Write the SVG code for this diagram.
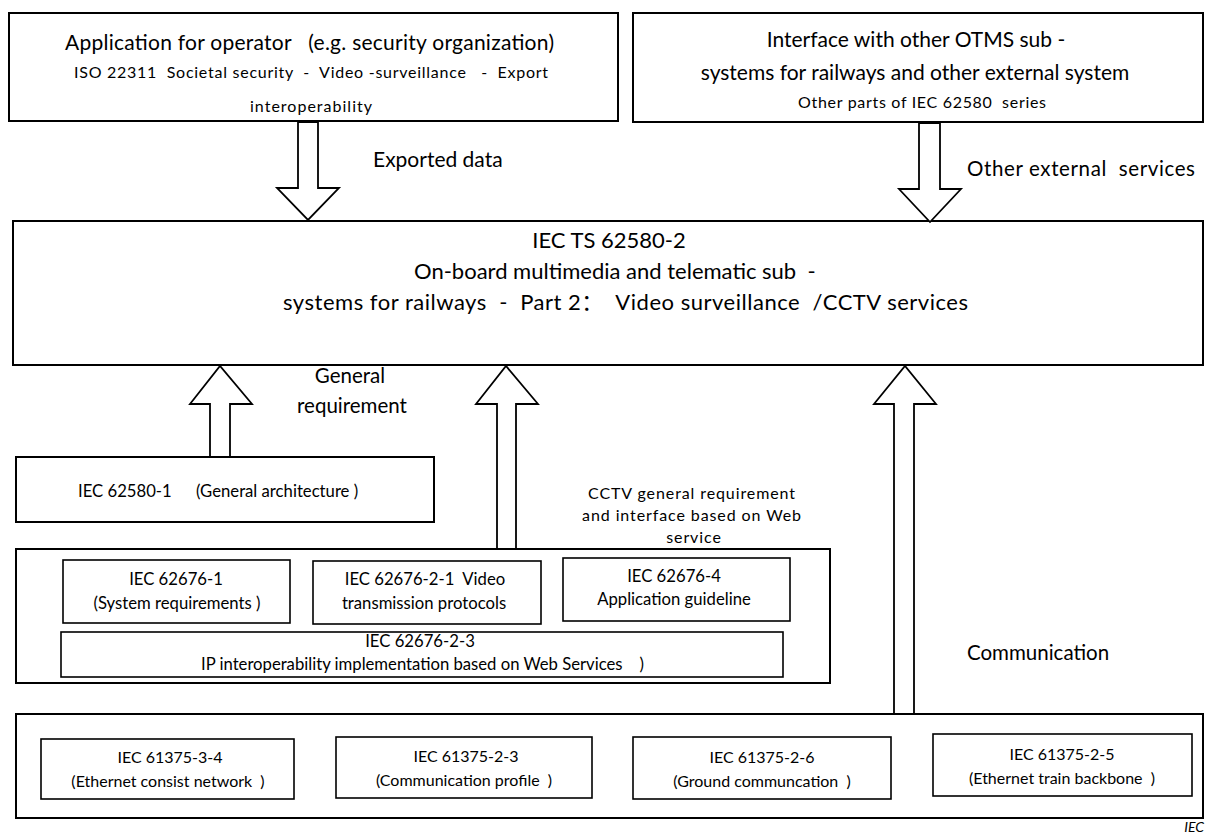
<svg xmlns="http://www.w3.org/2000/svg" width="1205" height="834" viewBox="0 0 1205 834">
<style>
.box{fill:#fff;stroke:#000;stroke-width:2}
.ibox{fill:#fff;stroke:#000;stroke-width:1.6}
.arr{fill:#fff;stroke:#000;stroke-width:1.8;stroke-linejoin:miter}
text{font-family:Lato,"Liberation Sans","Noto Sans CJK SC",sans-serif;fill:#000;text-anchor:middle;white-space:pre}
.s{text-anchor:start}
.t22{font-size:22px}
.t21{font-size:21px}
.t20{font-size:20.5px}
.t17{font-size:16.7px}
.t16{font-size:16px}
</style>
<rect width="1205" height="834" fill="#fff"/>
<g id="app-operator">
<rect class="box" x="9" y="13" width="609" height="108"/>
<text class="t21 s" x="65" y="50" textLength="489" lengthAdjust="spacing" xml:space="preserve">Application for operator   (e.g. security organization)</text>
<text class="t16 s" x="74" y="78" textLength="474" lengthAdjust="spacing" xml:space="preserve">ISO 22311  Societal security  -  Video -surveillance   -  Export</text>
<text class="t16 s" x="250" y="112" textLength="122" lengthAdjust="spacing">interoperability</text>
</g>
<g id="otms-interface">
<rect class="box" x="633" y="13" width="570" height="109"/>
<text class="t21" x="916" y="47">Interface with other OTMS sub -</text>
<text class="t21" x="915" y="80">systems for railways and other external system</text>
<text class="t16 s" x="798" y="108" textLength="248" lengthAdjust="spacing" xml:space="preserve">Other parts of IEC 62580  series</text>
</g>
<g id="iec62580-2">
<rect class="box" x="13" y="221" width="1190" height="144"/>
<text class="t22" x="609" y="248">IEC TS 62580-2</text>
<text class="t22 s" x="414" y="279" xml:space="preserve">On-board multimedia and telematic sub  -</text>
<text class="t22 s" x="283" y="310" textLength="685" lengthAdjust="spacing" xml:space="preserve">systems for railways  -  Part 2：  Video surveillance  /CCTV services</text>
</g>
<g id="iec62580-1">
<rect class="box" x="16" y="457" width="418" height="65"/>
<text class="t17 s" y="497"><tspan x="78">IEC 62580-1</tspan><tspan x="196">(General architecture )</tspan></text>
</g>
<g id="iec62676">
<rect class="box" x="16" y="549" width="814" height="134"/>
<g id="iec62676-1">
<rect class="ibox" x="63" y="560" width="227" height="63"/>
<text class="t17" x="176" y="585">IEC 62676-1</text>
<text class="t17" x="177" y="609">(System requirements )</text>
</g>
<g id="iec62676-2-1">
<rect class="ibox" x="313" y="561" width="228" height="63"/>
<text class="t17" x="425" y="585" xml:space="preserve">IEC 62676-2-1  Video</text>
<text class="t17" x="424" y="609">transmission protocols</text>
</g>
<g id="iec62676-4">
<rect class="ibox" x="563" y="558" width="227" height="63"/>
<text class="t17" x="674" y="582">IEC 62676-4</text>
<text class="t17" x="674" y="605">Application guideline</text>
</g>
<g id="iec62676-2-3">
<rect class="ibox" x="61" y="632" width="722" height="45"/>
<text class="t17" x="420" y="647">IEC 62676-2-3</text>
<text class="t17 s" x="201" y="670" textLength="443" lengthAdjust="spacing" xml:space="preserve">IP interoperability implementation based on Web Services    )</text>
</g>
</g>
<g id="iec61375">
<rect class="box" x="16" y="714" width="1187" height="104"/>
<g id="iec61375-3-4">
<rect class="ibox" x="41" y="739" width="253" height="60"/>
<text class="t16" x="170" y="763">IEC 61375-3-4</text>
<text class="t16" x="168" y="787" xml:space="preserve">(Ethernet consist network  )</text>
</g>
<g id="iec61375-2-3">
<rect class="ibox" x="336" y="737" width="256" height="61"/>
<text class="t16" x="466" y="762">IEC 61375-2-3</text>
<text class="t16" x="464" y="786" xml:space="preserve">(Communication profile  )</text>
</g>
<g id="iec61375-2-6">
<rect class="ibox" x="633" y="737" width="258" height="62"/>
<text class="t16" x="762" y="763">IEC 61375-2-6</text>
<text class="t16" x="762" y="787" xml:space="preserve">(Ground communcation  )</text>
</g>
<g id="iec61375-2-5">
<rect class="ibox" x="933" y="734" width="259" height="62"/>
<text class="t16" x="1062" y="760">IEC 61375-2-5</text>
<text class="t16" x="1062" y="784" xml:space="preserve">(Ethernet train backbone  )</text>
</g>
</g>
<g id="connectors">
<polygon class="arr" points="298,122 318,122 318,188 339,188 308,220 277,188 298,188"/>
<polygon class="arr" points="919,123 940,123 940,189 961,189 930,222 899,189 919,189"/>
<polygon class="arr" points="210,457 230,457 230,404 252,404 220,366 190,404 210,404"/>
<polygon class="arr" points="497,549 516,549 516,404 538,404 506,366 476,404 497,404"/>
<polygon class="arr" points="894,714 914,714 914,404 936,404 905,366 874,404 894,404"/>
<text class="t21 s" x="373" y="167">Exported data</text>
<text class="t20 s" x="967" y="176" textLength="228" lengthAdjust="spacing" xml:space="preserve">Other external  services</text>
<text class="t20" x="350" y="383">General</text>
<text class="t20" x="352" y="413">requirement</text>
<text class="t16" x="692" y="499" letter-spacing="0.9">CCTV general requirement</text>
<text class="t16" x="692" y="521" letter-spacing="0.9">and interface based on Web</text>
<text class="t16" x="694" y="543" letter-spacing="0.9">service</text>
<text class="t20 s" x="967" y="660">Communication</text>
</g>
<text x="1204" y="832" style="font-size:14px;font-style:italic;text-anchor:end">IEC</text>
</svg>
